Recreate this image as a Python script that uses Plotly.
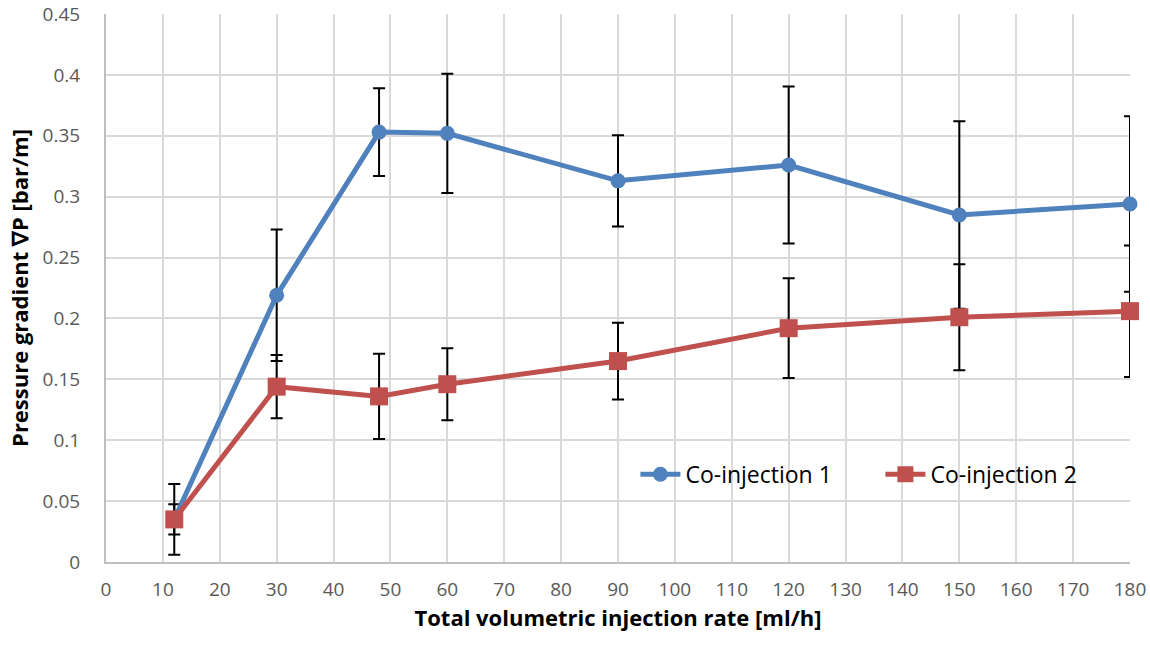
import plotly.graph_objects as go

x_vals = [12, 30, 48, 60, 90, 120, 150, 180]
co1 = [0.035, 0.219, 0.353, 0.352, 0.313, 0.326, 0.285, 0.294]
co1_err = [0.0125, 0.054, 0.036, 0.049, 0.0375, 0.0645, 0.077, 0.072]
co2 = [0.035, 0.144, 0.136, 0.146, 0.165, 0.192, 0.201, 0.206]
co2_err = [0.029, 0.026, 0.035, 0.0295, 0.0315, 0.041, 0.0435, 0.054]

x_ticks = list(range(0, 181, 10))
y_ticks = [0, 0.05, 0.1, 0.15, 0.2, 0.25, 0.3, 0.35, 0.4, 0.45]
y_labels = ["0", "0.05", "0.1", "0.15", "0.2", "0.25", "0.3", "0.35", "0.4", "0.45"]

fig = go.Figure()
fig.add_trace(go.Scatter(
    x=x_vals, y=co1, name="Co-injection 1", mode="lines+markers", cliponaxis=False,
    line=dict(color="#4f81bd", width=5),
    marker=dict(symbol="circle", size=15, color="#4f81bd"),
    error_y=dict(type="data", array=co1_err, visible=True, color="black", thickness=2, width=6),
))
fig.add_trace(go.Scatter(
    x=x_vals, y=co2, name="Co-injection 2", mode="lines+markers", cliponaxis=False,
    line=dict(color="#c0504d", width=5),
    marker=dict(symbol="square", size=18, color="#c0504d"),
    error_y=dict(type="data", array=co2_err, visible=True, color="black", thickness=2, width=6),
))

fig.update_layout(
    width=1150, height=646,
    margin=dict(l=106, r=20, t=14, b=84, autoexpand=False),
    paper_bgcolor="white", plot_bgcolor="white",
    font=dict(family="Open Sans, Liberation Sans, sans-serif", color="#595959", size=19),
    legend=dict(orientation="h", x=0.517, y=0.16, xanchor="left", yanchor="middle",
                bgcolor="rgba(255,255,255,0)", font=dict(size=23, color="black"),
                itemwidth=40, entrywidth=190, entrywidthmode="pixels"),
    showlegend=True,
)
fig.update_xaxes(
    range=[0, 180], tickvals=x_ticks, ticktext=[str(t) for t in x_ticks],
    showgrid=True, gridcolor="#d9d9d9", gridwidth=2,
    showline=True, linecolor="#bfbfbf", linewidth=2, zeroline=False,
    ticks="", ticklabelstandoff=9, tickfont=dict(size=19, color="#595959"),
    title=dict(text="<b>Total volumetric injection rate [ml/h]</b>", font=dict(size=22, color="black"), standoff=9),
)
fig.update_yaxes(
    range=[0, 0.45], tickvals=y_ticks, ticktext=y_labels,
    showgrid=True, gridcolor="#d9d9d9", gridwidth=2,
    showline=True, linecolor="#bfbfbf", linewidth=2, zeroline=False,
    ticks="", ticklabelstandoff=20, tickfont=dict(size=19, color="#595959"),
    title=dict(text="<b>Pressure gradient ∇P [bar/m]</b>", font=dict(size=22, color="black"), standoff=8),
)

fig.write_html("out.html")
